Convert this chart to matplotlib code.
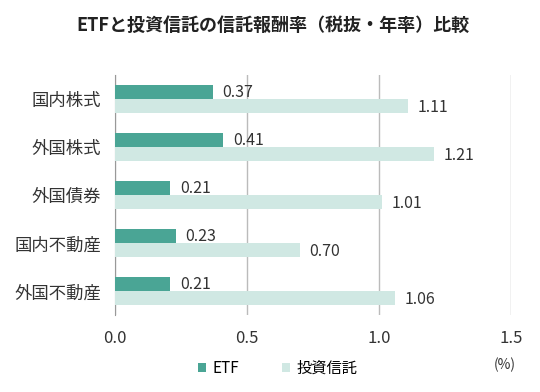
import numpy as np
import matplotlib
matplotlib.use("Agg")
import matplotlib.pyplot as plt

plt.rcParams['font.family'] = ['Noto Sans CJK JP', 'DejaVu Sans']

categories = ["国内株式", "外国株式", "外国債券", "国内不動産", "外国不動産"]
etf = [0.37, 0.41, 0.21, 0.23, 0.21]
toshin = [1.11, 1.21, 1.01, 0.70, 1.06]
series_names = ["ETF", "投資信託"]
xticks = [0.0, 0.5, 1.0, 1.5]

c_etf = "#4aa595"
c_toshin = "#d0e8e3"

fig = plt.figure(figsize=(5.4, 3.92), dpi=100)
ax = fig.add_axes([0.213, 0.196, 0.733, 0.612])

y = np.arange(len(categories))
h = 0.29
ax.barh(y - h / 2, etf, height=h, color=c_etf, label=series_names[0], zorder=3)
ax.barh(y + h / 2, toshin, height=h, color=c_toshin, label=series_names[1], zorder=3)

for i in range(len(categories)):
    ax.annotate(f"{etf[i]:.2f}", (etf[i], y[i] - h / 2), xytext=(7, 0), textcoords="offset points",
                va="center", ha="left", fontsize=11.5, color="#333333")
    ax.annotate(f"{toshin[i]:.2f}", (toshin[i], y[i] + h / 2), xytext=(7, -1), textcoords="offset points",
                va="center", ha="left", fontsize=11.5, color="#333333")

ax.set_ylim(len(categories) - 0.5, -0.5)
ax.set_xlim(0, 1.5)
ax.set_yticks(y)
ax.set_yticklabels(categories, fontsize=12.5, color="#333333")
ax.set_xticks(xticks)
ax.set_xticklabels([f"{t:.1f}" for t in xticks], fontsize=12, color="#333333")
ax.tick_params(axis="y", length=0, pad=10)
ax.tick_params(axis="x", length=0, pad=11)
ax.grid(axis="x", color="#bbbbbb", linewidth=1, zorder=0)
for s in ["top", "right", "bottom"]:
    ax.spines[s].set_visible(False)
ax.spines["left"].set_color("#999999")

fig.text(0.505, 0.935, "ETFと投資信託の信託報酬率（税抜・年率）比較", ha="center", va="center",
         fontsize=13, fontweight="bold", color="#222222")

ax.legend(loc="upper center", bbox_to_anchor=(0.41, -0.13), ncol=2, frameon=False,
          fontsize=11, handlelength=0.55, handleheight=0.55, columnspacing=2.8, handletextpad=0.4)
fig.text(0.935, 0.068, "(%)", ha="center", va="center", fontsize=10, color="#333333")

fig.savefig("out.png", dpi=100)
